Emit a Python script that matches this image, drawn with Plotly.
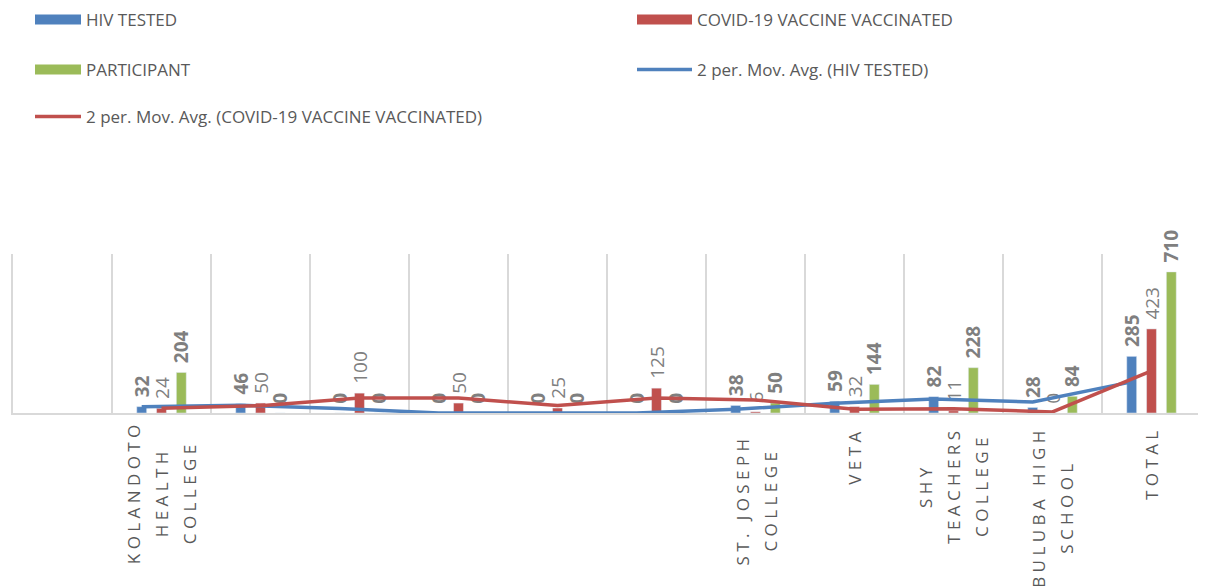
import plotly.graph_objects as go

# ---- data ----
categories = ["", "KOLANDOTO HEALTH COLLEGE", "", "", "", "", "",
              "ST. JOSEPH COLLEGE", "VETA", "SHY TEACHERS COLLEGE",
              "BULUBA HIGH SCHOOL", "TOTAL"]
category_lines = [[], ["KOLANDOTO", "HEALTH", "COLLEGE"], [], [], [], [], [],
                  ["ST. JOSEPH", "COLLEGE"], ["VETA"], ["SHY", "TEACHERS", "COLLEGE"],
                  ["BULUBA HIGH", "SCHOOL"], ["TOTAL"]]
hiv_tested = [None, 32, 46, 0, 0, 0, 0, 38, 59, 82, 28, 285]
covid_vaccinated = [None, 24, 50, 100, 50, 25, 125, 6, 32, 11, 0, 423]
participant = [None, 204, 0, 0, 0, 0, 0, 50, 144, 228, 84, 710]

BLUE = "#4F81BD"
RED = "#C0504D"
GREEN = "#9BBB59"
LABEL_GRAY = "#7F7F7F"
TEXT_GRAY = "#595959"
GRID = "#D9D9D9"
FONT = "Open Sans"

W, H = 1198, 578   # page body has an 8px margin


def moving_average(values, period=2):
    out = [None] * len(values)
    for i in range(1, len(values)):
        window = [v for v in values[max(0, i - period + 1):i + 1] if v is not None]
        if window:
            out[i] = sum(window) / len(window)
    return out


def spaced(word):
    return " ".join("\u00a0" if c == " " else c for c in word)


x = list(range(len(categories)))
ma_hiv = moving_average(hiv_tested)
ma_covid = moving_average(covid_vaccinated)

fig = go.Figure()

bar_specs = [
    ("HIV TESTED", hiv_tested, BLUE, "bold"),
    ("COVID-19 VACCINE VACCINATED", covid_vaccinated, RED, "normal"),
    ("PARTICIPANT", participant, GREEN, "bold"),
]
for name, vals, color, weight in bar_specs:
    fig.add_trace(go.Bar(
        x=x, y=vals, name=name, marker_color=color, showlegend=False,
        text=[("\u2009\u2009" + str(v)) if v is not None else "" for v in vals],
        textposition="outside", textangle=-90, constraintext="none",
        cliponaxis=False,
        textfont=dict(family=FONT, size=19, color=LABEL_GRAY, weight=weight),
        hoverinfo="skip",
    ))

# moving-average trendlines, drawn at their series' bar positions
fig.add_trace(go.Scatter(
    x=[i - 0.2 for i in x], y=ma_hiv, mode="lines", line=dict(color=BLUE, width=3.5),
    showlegend=False, connectgaps=False, hoverinfo="skip", cliponaxis=False))
fig.add_trace(go.Scatter(
    x=x, y=ma_covid, mode="lines", line=dict(color=RED, width=3.5),
    showlegend=False, connectgaps=False, hoverinfo="skip", cliponaxis=False))

# legend entries: one legend per entry so they sit in a 2-column grid
legend_entries = [
    ("HIV TESTED", BLUE, 10, "legend", 22, 12, 46),
    ("COVID-19 VACCINE VACCINATED", RED, 10, "legend2", 624, 12, 55),
    ("PARTICIPANT", GREEN, 10, "legend3", 22, 62, 46),
    ("2 per. Mov. Avg. (HIV TESTED)", BLUE, 3.5, "legend4", 624, 62, 55),
    ("2 per. Mov. Avg. (COVID-19 VACCINE VACCINATED)", RED, 3.5, "legend5", 22, 109, 46),
]
legend_layouts = {}
for name, color, w, lg, lx, ly, iw in legend_entries:
    fig.add_trace(go.Scatter(x=[None], y=[None], mode="lines", name=name,
                             line=dict(color=color, width=w), legend=lg))
    legend_layouts[lg] = dict(
        orientation="h", xref="container", yref="container",
        x=lx / W, y=1 - ly / H, xanchor="left", yanchor="middle",
        itemwidth=iw, bgcolor="rgba(0,0,0,0)",
        font=dict(family=FONT, size=17, color=TEXT_GRAY))

# category labels (rotated, centred lines)
annotations = []
LINE_GAP = 28
for i, lines in enumerate(category_lines):
    if not lines:
        continue
    n = len(lines)
    longest = max(len(l) for l in lines)
    centre_drop = 16 + 7.3 * longest
    for k, line in enumerate(lines):
        annotations.append(dict(
            x=i, y=0, xref="x", yref="paper", yanchor="middle", xanchor="center",
            xshift=(k - (n - 1) / 2) * LINE_GAP, yshift=-centre_drop,
            textangle=-90, showarrow=False, text=spaced(line),
            font=dict(family=FONT, size=17, color=TEXT_GRAY)))

fig.update_layout(
    width=W, height=H,
    margin=dict(l=5, r=3, t=246, b=173),
    paper_bgcolor="white", plot_bgcolor="white",
    barmode="group", bargap=0.4, bargroupgap=0.5,
    font=dict(family=FONT, color=TEXT_GRAY),
    xaxis=dict(range=[-0.5, len(categories) - 0.5], tick0=-0.5, dtick=1,
               showgrid=True, gridcolor=GRID, gridwidth=1.5,
               showticklabels=False, ticks="", zeroline=False,
               showline=True, linecolor=GRID, linewidth=1.5),
    yaxis=dict(range=[0, 800], showgrid=False, showticklabels=False, ticks="",
               zeroline=False, showline=True, linecolor=GRID, linewidth=1.5,
               mirror=True),
    annotations=annotations,
    **legend_layouts,
)

fig.write_html("out.html")
